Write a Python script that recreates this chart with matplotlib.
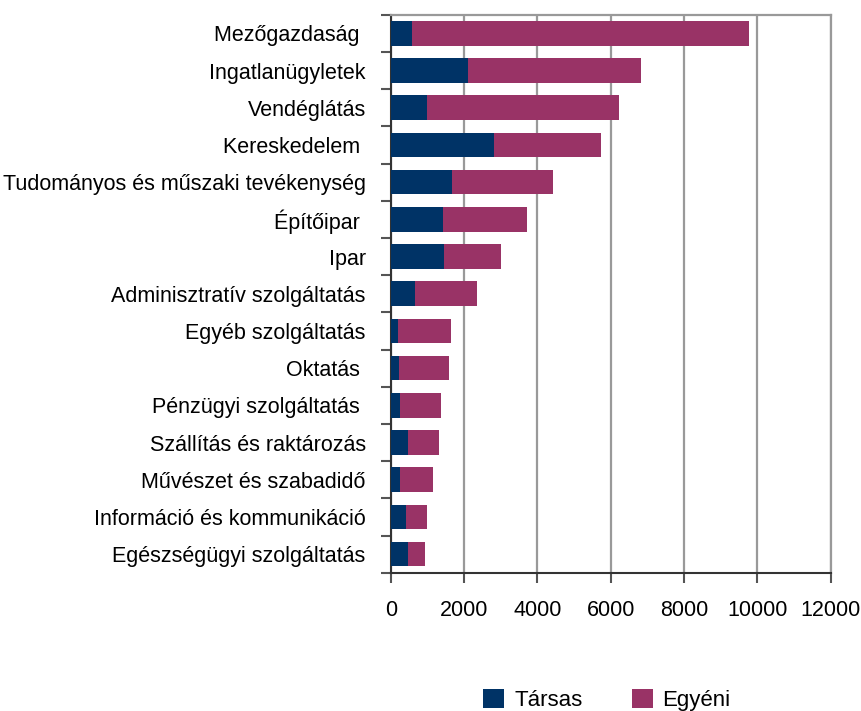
import matplotlib.pyplot as plt
import numpy as np

plt.rcParams["font.family"] = ["Liberation Sans Narrow", "Liberation Sans", "DejaVu Sans"]

agak = [
    "Mezőgazdaság ",
    "Ingatlanügyletek",
    "Vendéglátás",
    "Kereskedelem ",
    "Tudományos és műszaki tevékenység",
    "Építőipar ",
    "Ipar",
    "Adminisztratív szolgáltatás",
    "Egyéb szolgáltatás",
    "Oktatás ",
    "Pénzügyi szolgáltatás ",
    "Szállítás és raktározás",
    "Művészet és szabadidő",
    "Információ és kommunikáció",
    "Egészségügyi szolgáltatás",
]
tarsas = [580, 2110, 990, 2820, 1670, 1430, 1450, 660, 200, 230, 250, 470, 250, 420, 470]
osszes = [9770, 6830, 6230, 5740, 4430, 3720, 3010, 2350, 1645, 1590, 1370, 1320, 1155, 990, 935]
egyeni = [o - t for o, t in zip(osszes, tarsas)]

fig = plt.figure(figsize=(8.61, 7.11), dpi=100)
ax = fig.add_axes([0.4538, 0.1945, 0.511, 0.7848])

y = np.arange(len(agak))[::-1]
ax.barh(y, tarsas, height=0.66, color="#003366", label="Társas", zorder=3)
ax.barh(y, egyeni, left=tarsas, height=0.66, color="#993366", label="Egyéni", zorder=3)

ax.set_xlim(0, 12000)
ax.set_ylim(-0.5, len(agak) - 0.5)
ax.set_xticks(range(0, 12001, 2000))
ax.xaxis.grid(True, color="#999999", linewidth=1.6, zorder=0)

ax.set_yticks(np.arange(-0.5, len(agak), 1.0))
ax.set_yticklabels([])
ax.set_yticks(y, minor=True)
ax.set_yticklabels(agak, minor=True)
ax.tick_params(axis="y", which="major", length=7, width=1.5, color="#555555")
ax.tick_params(axis="y", which="minor", length=0, pad=18, labelsize=15.5)
ax.tick_params(axis="x", length=7, width=1.5, color="#555555", pad=13, labelsize=15.5)

for s in ["top", "right"]:
    ax.spines[s].set_color("#999999")
    ax.spines[s].set_linewidth(1.6)
for s in ["left", "bottom"]:
    ax.spines[s].set_color("#333333")
    ax.spines[s].set_linewidth(1.5)

fig.legend(loc="lower center", bbox_to_anchor=(0.705, -0.028), ncol=2, frameon=False,
           fontsize=16, handlelength=0.95, handleheight=0.95, columnspacing=2.2,
           handletextpad=0.45)

fig.savefig("out.png", dpi=100)
